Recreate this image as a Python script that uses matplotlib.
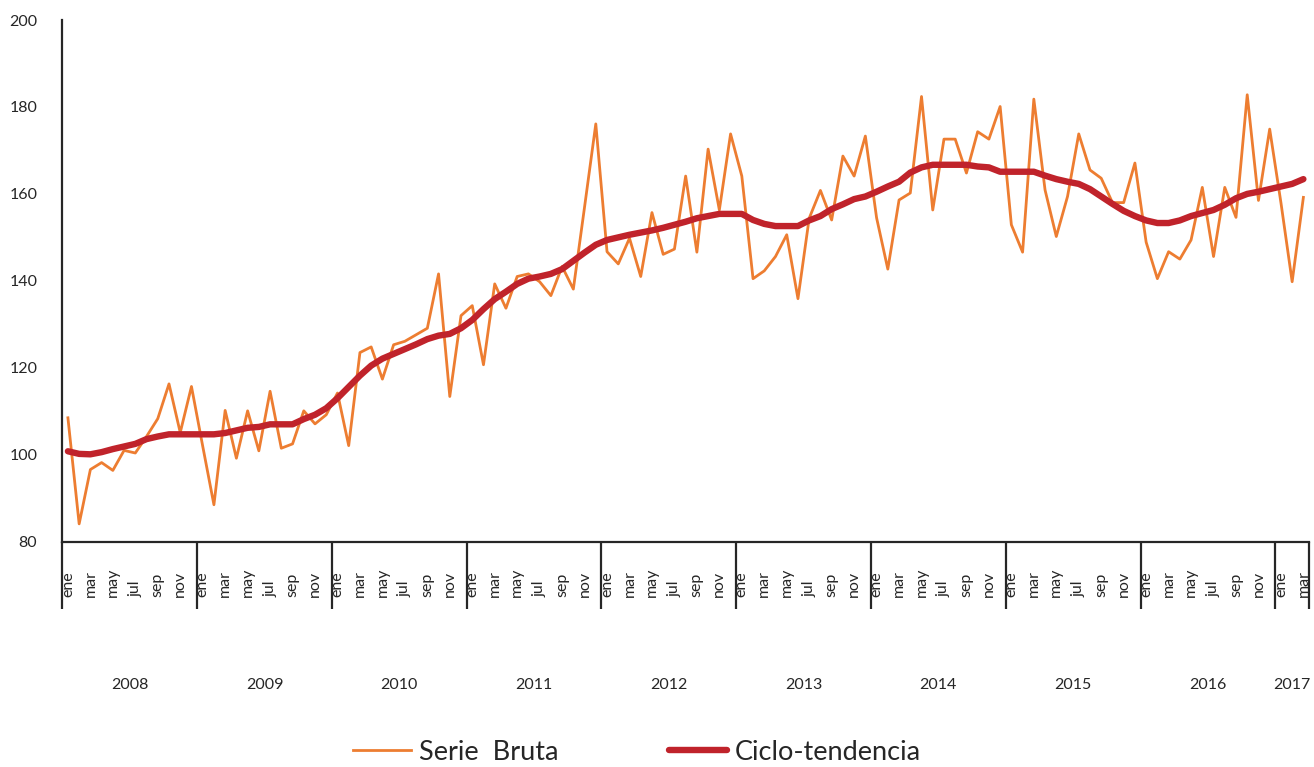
import matplotlib
matplotlib.use("Agg")
import matplotlib.pyplot as plt
import matplotlib.transforms as mtransforms

years = ["2008", "2009", "2010", "2011", "2012", "2013", "2014", "2015", "2016", "2017"]
months = ["ene", "feb", "mar", "abr", "may", "jun", "jul", "ago", "sep", "oct", "nov", "dic"]

serie_bruta = [
    108.5, 84.1, 96.6, 98.2, 96.4, 101.0, 100.4, 104.2, 108.3, 116.3, 105.1, 115.7,   # 2008
    102.0, 88.5, 110.2, 99.2, 110.1, 100.9, 114.6, 101.5, 102.5, 110.1, 107.1, 109.2,  # 2009
    114.2, 102.1, 123.5, 124.8, 117.4, 125.3, 126.1, 127.6, 129.1, 141.6, 113.4, 132.0, # 2010
    134.3, 120.7, 139.3, 133.7, 141.0, 141.6, 139.8, 136.6, 143.3, 138.1, 157.0, 176.1, # 2011
    146.7, 143.9, 149.8, 141.0, 155.7, 146.1, 147.3, 164.1, 146.6, 170.3, 156.3, 173.8, # 2012
    164.1, 140.5, 142.3, 145.6, 150.6, 135.9, 154.4, 160.8, 154.0, 168.7, 164.1, 173.3, # 2013
    154.5, 142.7, 158.6, 160.2, 182.4, 156.3, 172.6, 172.6, 164.8, 174.3, 172.6, 180.1, # 2014
    152.9, 146.6, 181.8, 160.9, 150.2, 159.4, 173.8, 165.5, 163.6, 158.0, 158.0, 167.1, # 2015
    148.9, 140.5, 146.7, 145.0, 149.4, 161.5, 145.6, 161.5, 154.6, 182.8, 158.5, 174.9, # 2016
    158.0, 139.8, 159.2,                                                                # 2017
]

ciclo_tendencia = [
    100.8, 100.2, 100.1, 100.6, 101.3, 101.9, 102.5, 103.6, 104.2, 104.7, 104.7, 104.7,
    104.7, 104.7, 105.0, 105.6, 106.2, 106.4, 107.0, 107.0, 107.0, 108.2, 109.2, 110.7,
    113.0, 115.6, 118.2, 120.5, 122.1, 123.2, 124.3, 125.4, 126.6, 127.4, 127.8, 129.1,
    131.0, 133.5, 135.8, 137.5, 139.3, 140.5, 141.0, 141.6, 142.7, 144.6, 146.5, 148.3,
    149.4, 150.0, 150.6, 151.1, 151.6, 152.2, 152.9, 153.6, 154.4, 154.9, 155.4, 155.4,
    155.4, 154.0, 153.1, 152.6, 152.6, 152.6, 153.9, 154.9, 156.5, 157.6, 158.8, 159.4,
    160.5, 161.7, 162.8, 164.9, 166.1, 166.7, 166.7, 166.7, 166.7, 166.3, 166.1, 165.1,
    165.1, 165.1, 165.1, 164.2, 163.4, 162.8, 162.3, 161.1, 159.4, 157.7, 156.1, 154.9,
    153.9, 153.3, 153.3, 153.9, 154.9, 155.6, 156.3, 157.5, 159.0, 160.0, 160.5, 161.1,
    161.7, 162.3, 163.4,
]

y_ticks = [80, 100, 120, 140, 160, 180, 200]

FONT = ["Lato", "DejaVu Sans"]
plt.rcParams["font.family"] = FONT
TXT = "#262626"
AX = "#262626"

n = len(serie_bruta)
x = list(range(n))

fig = plt.figure(figsize=(13.14, 7.67), dpi=100)
ax = fig.add_axes([62.3 / 1314, 1 - 541.7 / 767, (1309 - 62.3) / 1314, (541.7 - 20) / 767])

l1, = ax.plot(x, serie_bruta, color="#ED7D31", lw=2.0, label="Serie  Bruta", zorder=2)
l2, = ax.plot(x, ciclo_tendencia, color="#C0232B", lw=4.6, label="Ciclo-tendencia",
              solid_capstyle="round", solid_joinstyle="round", zorder=3)

ax.set_xlim(-0.5, n - 0.5)
ax.set_ylim(80, 200)
ax.set_yticks(y_ticks)
ax.tick_params(axis="y", length=0, pad=18, labelsize=11.5, labelcolor=TXT)

for s in ["top", "right"]:
    ax.spines[s].set_visible(False)
for s in ["left", "bottom"]:
    ax.spines[s].set_color(AX)
    ax.spines[s].set_linewidth(1.6)

# year separator ticks
sep = [12 * k - 0.5 for k in range(len(years))] + [n - 0.5]
ax.set_xticks(sep)
ax.set_xticklabels([])
ax.tick_params(axis="x", length=48.3, width=1.6, color=AX, direction="out")

trans = mtransforms.blended_transform_factory(ax.transData, ax.transAxes)
ax_h = 541.7 - 20
y_month = (541.7 - 597) / ax_h
y_year = (541.7 - 685) / ax_h

for i in range(n):
    m = i % 12
    if m % 2 == 0:
        ax.text(i, y_month, months[m], transform=trans, rotation=90, ha="center",
                va="bottom", fontsize=11.5, color=TXT, clip_on=False)

for k, yr in enumerate(years):
    start = 12 * k - 0.5
    end = min(12 * k + 11.5, n - 0.5)
    ax.text((start + end) / 2, y_year, yr, transform=trans, ha="center", va="center",
            fontsize=11.5, color=TXT)

leg = fig.legend(handles=[l1, l2], loc="center", bbox_to_anchor=(637 / 1314, 1 - 752 / 767),
                 ncol=2, frameon=False, fontsize=19.5, handlelength=2.15, handletextpad=0.28,
                 columnspacing=4.1, labelcolor=TXT)

fig.savefig("out.png", dpi=100)
